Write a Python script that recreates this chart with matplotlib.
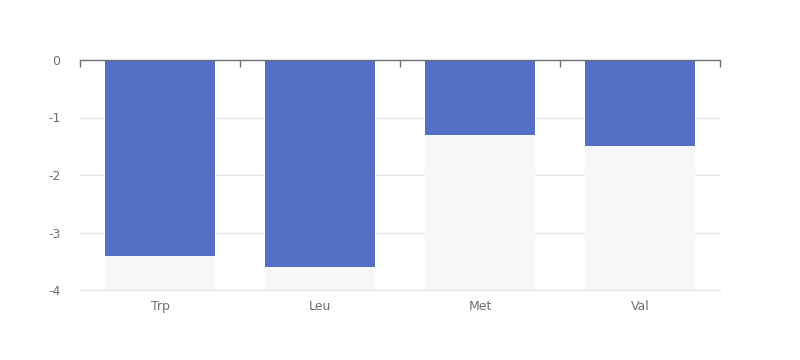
import matplotlib
matplotlib.use("Agg")
import matplotlib.pyplot as plt

categories = ["Trp", "Leu", "Met", "Val"]
values = [-3.4, -3.6, -1.3, -1.5]
y_ticks = [0, -1, -2, -3, -4]

fig = plt.figure(figsize=(8, 3.6), dpi=100)
ax = fig.add_axes([0.1, 70/360, 0.8, 230/360])

x = list(range(len(categories)))
w = 0.6875
ax.bar(x, [-4]*len(x), width=w, color="#F7F7F7", zorder=2)
ax.bar(x, values, width=w, color="#5470C6", zorder=3)

ax.set_xlim(-0.5, len(categories) - 0.5)
ax.set_ylim(-4, 0)
ax.set_yticks(y_ticks)
ax.set_yticklabels([str(v) for v in y_ticks])
for v in y_ticks[1:-1]:
    ax.axhline(v, color="#E0E6F1", lw=1, zorder=1)
ax.axhline(y_ticks[-1], color="#E0E6F1", lw=1, zorder=4, clip_on=False)

for s in ["left", "right", "bottom"]:
    ax.spines[s].set_visible(False)
ax.spines["top"].set_color("#6E7079")
ax.spines["top"].set_linewidth(1)
ax.spines["top"].set_zorder(5)

ax.tick_params(axis="y", length=0, pad=14, labelsize=9, labelcolor="#6E7079")
ax.set_xticks(x)
ax.set_xticklabels(categories)
ax.tick_params(axis="x", bottom=True, length=0, pad=7, labelsize=9, labelcolor="#6E7079")
ax.set_xticks([i - 0.5 for i in range(len(categories) + 1)], minor=True)
ax.tick_params(axis="x", which="minor", top=True, bottom=False, direction="in", length=5, color="#6E7079", width=1)

fig.savefig("out.png", dpi=100)
